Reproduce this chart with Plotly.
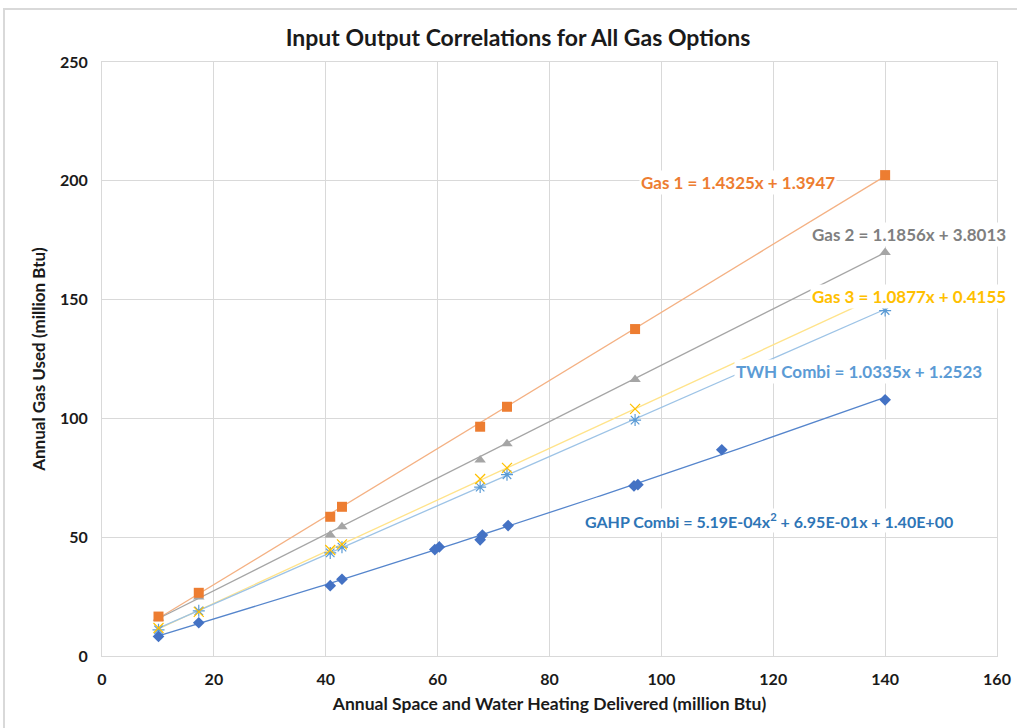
import plotly.graph_objects as go
import numpy as np

# ---- data ----
x_common = [10.1, 17.3, 40.8, 42.9, 67.6, 72.4, 95.3, 140.0]
gas1_y = [16.6, 26.6, 58.6, 62.8, 96.5, 104.9, 137.6, 202.4]
gas2_y = [15.9, 24.8, 50.9, 54.4, 82.5, 89.3, 116.4, 169.8]
gas3_y = [11.8, 18.6, 44.6, 47.0, 74.5, 79.2, 104.0, 152.7]
twh_y = [11.0, 19.0, 43.4, 45.8, 71.1, 76.3, 99.3, 145.4]

gahp_x = [10.1, 17.3, 40.8, 42.9, 59.5, 60.3, 67.6, 68.0, 72.6, 95.1, 95.8, 110.8, 140.0]
gahp_y = [8.2, 14.0, 29.6, 32.3, 44.8, 45.9, 48.9, 50.9, 54.9, 71.6, 72.1, 86.8, 107.8]

# trendline coefficients (highest power first), as printed on the chart
gas1_fit = [1.4325, 1.3947]
gas2_fit = [1.1856, 3.8013]
gas3_fit = [1.0877, 0.4155]
twh_fit = [1.0335, 1.2523]
gahp_fit = [5.19e-04, 6.95e-01, 1.40e+00]

labels = [
    "Gas 1 = 1.4325x + 1.3947",
    "Gas 2 = 1.1856x + 3.8013",
    "Gas 3 = 1.0877x + 0.4155",
    "TWH Combi = 1.0335x + 1.2523",
    "GAHP Combi = 5.19E-04x<sup>2</sup> + 6.95E-01x + 1.40E+00",
]

title = "Input Output Correlations for All Gas Options"
x_title = "Annual Space and Water Heating Delivered (million Btu)"
y_title = "Annual Gas Used (million Btu)"

FONT = "Lato"

fig = go.Figure()

def trend(xs, coefs, color, width=1.3):
    xx = np.linspace(min(xs), max(xs), 200)
    yy = np.polyval(coefs, xx)
    fig.add_trace(go.Scatter(x=xx, y=yy, mode="lines",
                             line=dict(color=color, width=width),
                             hoverinfo="skip", showlegend=False))

# trendlines
trend(x_common, gas1_fit, "#F4B183")
trend(x_common, gas2_fit, "#A5A5A5")
trend(x_common, gas3_fit, "#FFE38A")
trend(x_common, twh_fit, "#9DC3E6")
trend(gahp_x, gahp_fit, "#5585CC")

# markers
fig.add_trace(go.Scatter(x=x_common, y=twh_y, mode="markers", name="TWH Combi",
                         marker=dict(symbol="asterisk-open", size=10, color="#5B9BD5",
                                     line=dict(color="#5B9BD5", width=1.2))))
fig.add_trace(go.Scatter(x=x_common, y=gas3_y, mode="markers", name="Gas 3",
                         marker=dict(symbol="x-thin-open", size=10, color="#FFC000",
                                     line=dict(color="#FFC000", width=1.2))))
fig.add_trace(go.Scatter(x=x_common, y=gas2_y, mode="markers", name="Gas 2",
                         marker=dict(symbol="triangle-up", size=10, color="#A5A5A5")))
fig.add_trace(go.Scatter(x=gahp_x, y=gahp_y, mode="markers", name="GAHP Combi",
                         marker=dict(symbol="diamond", size=9, color="#4472C4")))
fig.add_trace(go.Scatter(x=x_common, y=gas1_y, mode="markers", name="Gas 1",
                         marker=dict(symbol="square", size=10, color="#ED7D31")))

# trendline equation labels (left edge positions in data coords)
ann_specs = [
    (labels[0], 96.0, 199.2, "#ED7D31", 17),
    (labels[1], 126.6, 177.6, "#7F7F7F", 17),
    (labels[2], 126.6, 151.1, "#FFC000", 17),
    (labels[3], 113.0, 119.6, "#5B9BD5", 17),
    (labels[4], 86.0, 57.2, "#2E75B6", 16),
]
for txt, ax_, ay_, col, fs in ann_specs:
    fig.add_annotation(x=ax_, y=ay_, text=txt, showarrow=False, xanchor="left",
                       font=dict(family=FONT, size=fs, color=col, weight="bold"),
                       bgcolor="white", borderpad=1)

# chart-area border
fig.add_shape(type="rect", xref="paper", yref="paper",
              x0=(4 - 102) / 895, x1=(1030 - 102) / 895,
              y0=(656 - 745) / 594, y1=(656 - 9) / 594,
              line=dict(color="#D9D9D9", width=2), fillcolor="rgba(0,0,0,0)",
              layer="below")

fig.update_layout(
    width=1017, height=728, autosize=False,
    margin=dict(l=102, r=20, t=62, b=72, autoexpand=False),
    paper_bgcolor="white", plot_bgcolor="white",
    showlegend=False,
    title=dict(text=title, x=(518) / 1017, xanchor="center", y=1 - 38 / 728,
               yanchor="middle",
               font=dict(family=FONT, size=23, color="#1a1a1a", weight="bold")),
    font=dict(family=FONT, color="#262626"),
    xaxis=dict(range=[0, 160], dtick=20, showgrid=True, gridcolor="#D9D9D9",
               gridwidth=1, zeroline=False, showline=True, linecolor="#D9D9D9",
               mirror=True, ticks="", ticklabelstandoff=9, automargin=False,
               tickfont=dict(family=FONT, size=16, color="#1a1a1a", weight="bold"),
               title=dict(text=x_title, standoff=10,
                          font=dict(family=FONT, size=17.5, color="#1a1a1a", weight="bold"))),
    yaxis=dict(range=[0, 250], dtick=50, showgrid=True, gridcolor="#D9D9D9",
               gridwidth=1, zeroline=False, showline=True, linecolor="#D9D9D9",
               mirror=True, ticks="", ticklabelstandoff=10, automargin=False,
               tickfont=dict(family=FONT, size=16, color="#1a1a1a", weight="bold"),
               title=dict(text=y_title, standoff=10,
                          font=dict(family=FONT, size=17, color="#1a1a1a", weight="bold"))),
)

fig.write_html("out.html")
